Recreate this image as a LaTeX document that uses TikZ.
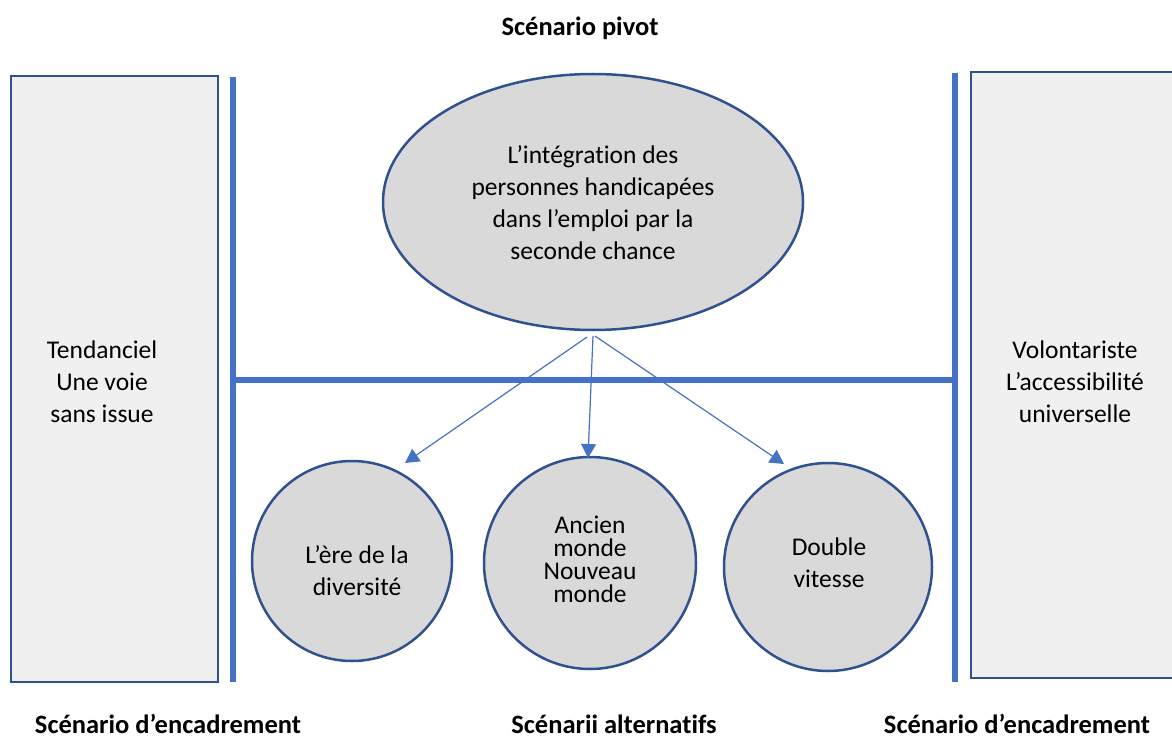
\documentclass[tikz,border=0pt]{standalone}
\usepackage{fontspec}
\setmainfont{Carlito}[Ligatures=NoCommon]
\usetikzlibrary{arrows.meta}
\definecolor{bdr}{HTML}{2F528F}
\definecolor{ln}{HTML}{4472C4}
\definecolor{rectfill}{HTML}{F0F0F0}
\definecolor{circfill}{HTML}{D9D9D9}
\tikzset{
  sidebox/.style={draw=bdr, line width=2.5pt, fill=rectfill},
  blob/.style={draw=bdr, line width=2.5pt, fill=circfill, align=center, inner sep=0pt},
  sep/.style={draw=ln, line width=5.5pt},
  conn/.style={draw=ln, line width=1.2pt, -{Triangle[width=15pt,length=14pt]}},
  txt/.style={font=\fontsize{25.5}{32}\selectfont, align=center},
  lbl/.style={font=\fontsize{26.5}{30}\selectfont\bfseries}
}
\begin{document}
\begin{tikzpicture}[x=1pt,y=-1pt]
\useasboundingbox (0,0) rectangle (1172,738);
% side boxes
\path[sidebox] (11,76) rectangle (218,682);
\path[sidebox] (971,72) rectangle (1180,678);
\node[txt] (left) at (102,382) {Tendanciel\\Une voie\\sans issue};
\node[txt] (right) at (1075,382) {Volontariste\\L’accessibilité\\universelle};
% separators
\coordinate (lt) at (233,77); \coordinate (lb) at (233,682);
\coordinate (rt) at (955,73); \coordinate (rb) at (955,682);
\coordinate (hl) at (236,380); \coordinate (hr) at (952,380);
\draw[sep] (lt) -- (lb);
\draw[sep] (rt) -- (rb);
\draw[sep] (hl) -- (hr);
% ellipse
\path[blob] (593,202) ellipse [x radius=210, y radius=128];
\node[txt] (piv) at (593,203) {L’intégration des\\personnes handicapées\\dans l’emploi par la\\seconde chance};
% circles
\path[blob] (352,561) circle [radius=100];
\path[blob] (590,563) circle [radius=106];
\path[blob] (828,567) circle [radius=104];
\node[txt] (c1) at (357,571) {L’ère de la\\diversité};
\node[txt, font=\fontsize{25.5}{23}\selectfont] (c2) at (590,559) {Ancien\\monde\\Nouveau\\monde};
\node[txt] (c3) at (829,563) {Double\\vitesse};
% arrows
\coordinate (s1) at (587,337); \coordinate (s2) at (593,336); \coordinate (s3) at (595,336);
\coordinate (e1) at (405,463); \coordinate (e2) at (588,458); \coordinate (e3) at (784,464);
\draw[conn] (s1) -- (e1);
\draw[conn] (s2) -- (e2);
\draw[conn] (s3) -- (e3);
% labels
\node[lbl] (t) at (580,28) {Scénario pivot};
\node[lbl] (b1) at (168,724) {Scénario d’encadrement};
\node[lbl] (b2) at (614,724) {Scénarii alternatifs};
\node[lbl] (b3) at (1017,724) {Scénario d’encadrement};
\end{tikzpicture}
\end{document}
